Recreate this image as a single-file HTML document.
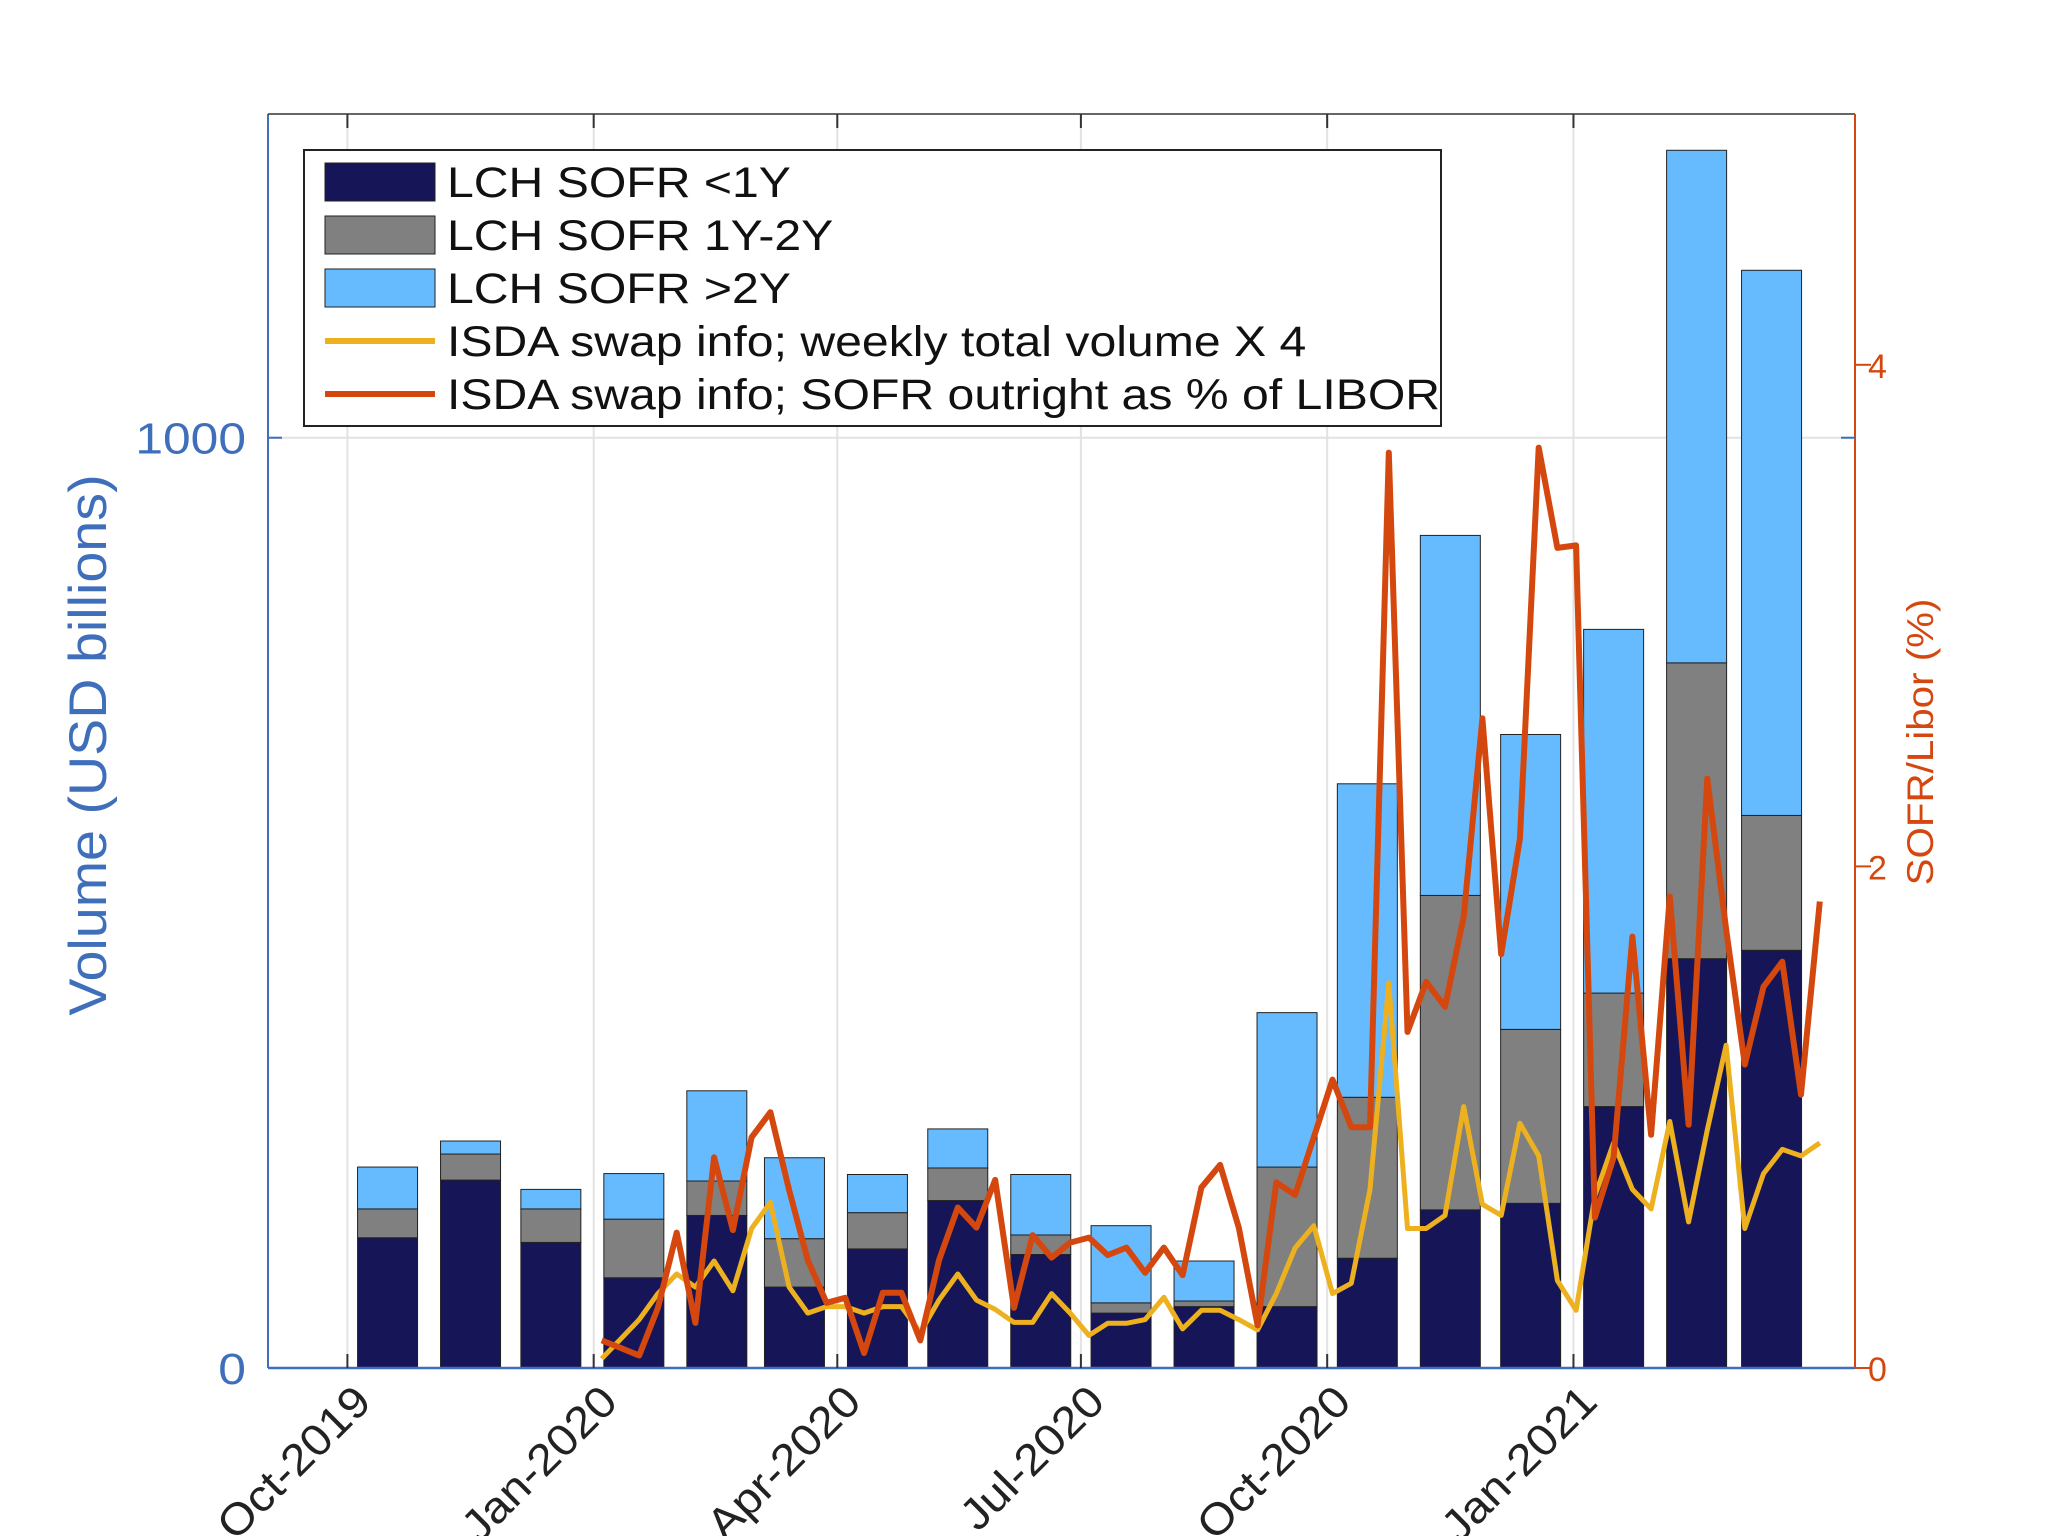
<!DOCTYPE html>
<html><head><meta charset="utf-8"><style>
html,body{margin:0;padding:0;background:#fff;}
svg{display:block;font-family:"Liberation Sans",sans-serif;}
</style></head><body>
<svg id="chart" width="2048" height="1536" viewBox="0 0 2048 1536" xmlns="http://www.w3.org/2000/svg">
<g id="grid"></g>
<g id="bars"></g>
<g id="lines"></g>
<g id="axes"></g>
<g id="legend"></g>
</svg>
<script>
const monthDays = [15,46,76,107,138,167,198,228,259,289,320,351,381,412,442,473,504,532];
const seriesLt1Y = [140,202,135,97,164,87,128,180,122,59,66,66,118,170,177,281,440,449];
const series1to2Y = [31,28,36,63,37,52,39,35,21,11,6,150,173,338,187,122,318,145];
const seriesGt2Y = [45,14,21,49,97,87,41,42,65,83,43,166,337,387,317,391,551,586];
const weekStartDay = 95;
const isdaVolume = [10,31,52,80,101,87,115,83,150,178,87,59,66,66,59,66,66,38,73,101,73,63,49,49,80,59,35,48,48,52,76,42,62,62,52,41,80,129,153,80,91,192,414,150,150,164,281,176,164,263,228,94,62,185,242,192,171,265,157,256,347,150,209,235,228,242];
const sofrPct = [0.11,0.08,0.05,0.24,0.54,0.18,0.84,0.55,0.92,1.02,0.71,0.43,0.26,0.28,0.06,0.30,0.30,0.11,0.43,0.64,0.56,0.75,0.24,0.53,0.44,0.50,0.52,0.45,0.48,0.38,0.48,0.37,0.72,0.81,0.56,0.17,0.74,0.69,0.92,1.15,0.96,0.96,3.65,1.34,1.54,1.44,1.80,2.59,1.65,2.11,3.67,3.27,3.28,0.60,0.84,1.72,0.93,1.88,0.97,2.35,1.75,1.21,1.52,1.62,1.09,1.86];
const xTickDays = [0,92,183,274,366,458];
const xTickLabels = ["Oct-2019","Jan-2020","Apr-2020","Jul-2020","Oct-2020","Jan-2021"];
const yLeftTicks = [0,1000];
const yRightTicks = [0,2,4];

const L=268,R=1855,T=114,B=1368;
const xs = d => 347.4 + d*2.677;
const yl = v => B - v*(B-T)/1348;
const yr = v => B - v*(B-T)/5;
const NS="http://www.w3.org/2000/svg";
function mk(parent,tag,attrs,text){const e=document.createElementNS(NS,tag);for(const k in attrs)e.setAttribute(k,attrs[k]);if(text!==undefined)e.textContent=text;document.getElementById(parent).appendChild(e);return e;}
function stretch(el,f){const w=el.getComputedTextLength();el.setAttribute('textLength',(w*f).toFixed(1));el.setAttribute('lengthAdjust','spacingAndGlyphs');}
const BLUE="#3f6fba",ORANGE="#d4480f";

xTickDays.forEach((d,i)=>{
  const g=mk('grid','line',{x1:xs(d),x2:xs(d),y1:T,y2:B,stroke:'#e2e2e2','stroke-width':2});
  
  
});
yLeftTicks.forEach(v=>{
  const g=mk('grid','line',{x1:L,x2:R,y1:yl(v),y2:yl(v),stroke:'#e2e2e2','stroke-width':2});
  
  
});

const bw=60;
monthDays.forEach((d,i)=>{
  const x=xs(d)-bw/2;
  const a=seriesLt1Y[i], b=series1to2Y[i], c=seriesGt2Y[i];
  const segs=[[0,a,'#151558','bar-lt1y'],[a,a+b,'#808080','bar-1y-2y'],[a+b,a+b+c,'#66bbff','bar-gt2y']];
  segs.forEach(s=>{
    const r=mk('bars','rect',{x:x,y:yl(s[1]),width:bw,height:yl(s[0])-yl(s[1]),fill:s[2],stroke:'#222','stroke-width':1});
    
    
  });
});

function pts(arr,yf){return arr.map((v,i)=>xs(weekStartDay+7*i).toFixed(1)+','+yf(v).toFixed(1)).join(' ');}
const ly=mk('lines','polyline',{points:pts(isdaVolume,yl),fill:'none',stroke:'#edb120','stroke-width':5,'stroke-linejoin':'round'});


const lr=mk('lines','polyline',{points:pts(sofrPct,yr),fill:'none',stroke:ORANGE,'stroke-width':6,'stroke-linejoin':'round'});



let e;
e=mk('axes','line',{x1:L,x2:L,y1:T,y2:B,stroke:BLUE,'stroke-width':2});


e=mk('axes','line',{x1:L,x2:R,y1:B,y2:B,stroke:BLUE,'stroke-width':2.5});


e=mk('axes','line',{x1:L,x2:R,y1:T,y2:T,stroke:'#333','stroke-width':1.5});


e=mk('axes','line',{x1:R,x2:R,y1:T,y2:B,stroke:ORANGE,'stroke-width':2});


xTickDays.forEach((d,i)=>{
  const x=xs(d);
  e=mk('axes','line',{x1:x,x2:x,y1:B,y2:B-14,stroke:'#333','stroke-width':2});
  
  
  e=mk('axes','line',{x1:x,x2:x,y1:T,y2:T+14,stroke:'#333','stroke-width':2});
  
  
  e=mk('axes','text',{x:x+26,y:B+36,'font-size':44,fill:'#222','text-anchor':'end',transform:`rotate(-45 ${x+26} ${B+36})`},xTickLabels[i]);
  
  
  stretch(e,1.08);
});
yLeftTicks.forEach(v=>{
  e=mk('axes','line',{x1:L,x2:L+14,y1:yl(v),y2:yl(v),stroke:BLUE,'stroke-width':2});
  
  
  e=mk('axes','line',{x1:R-14,x2:R,y1:yl(v),y2:yl(v),stroke:BLUE,'stroke-width':2});
  
  
  e=mk('axes','text',{x:246,y:yl(v)+16,'font-size':44,fill:BLUE,'text-anchor':'end'},String(v));
  
  
  stretch(e,1.13);
});
yRightTicks.forEach(v=>{
  e=mk('axes','line',{x1:R,x2:R+16,y1:yr(v),y2:yr(v),stroke:ORANGE,'stroke-width':2});
  
  
  e=mk('axes','text',{x:1868,y:yr(v)+13,'font-size':34,fill:ORANGE},String(v));
  
  
});
e=mk('axes','text',{x:0,y:0,'font-size':53,fill:BLUE,'text-anchor':'middle',transform:'translate(106 745) rotate(-90)'},'Volume (USD billions)');


stretch(e,1.05);
e=mk('axes','text',{x:0,y:0,'font-size':37,fill:ORANGE,'text-anchor':'middle',transform:'translate(1933 742) rotate(-90)'},'SOFR/Libor (%)');


stretch(e,1.09);

e=mk('legend','rect',{x:304,y:150,width:1137,height:276,fill:'#fff',stroke:'#222','stroke-width':2});


const legItems=[['LCH SOFR <1Y','#151558','rect'],['LCH SOFR 1Y-2Y','#808080','rect'],['LCH SOFR >2Y','#66bbff','rect'],['ISDA swap info; weekly total volume X 4','#edb120','line'],['ISDA swap info; SOFR outright as % of LIBOR',ORANGE,'line']];
legItems.forEach((it,i)=>{
  const cy=182+i*53;
  if(it[2]==='rect'){
    e=mk('legend','rect',{x:325,y:cy-19,width:110,height:38,fill:it[1],stroke:'#222','stroke-width':1});
  } else {
    e=mk('legend','line',{x1:325,x2:435,y1:cy,y2:cy,stroke:it[1],'stroke-width':6});
  }
  
  
  e=mk('legend','text',{x:447,y:cy+15,'font-size':43,fill:'#111'},it[0]);
  
  
  stretch(e,1.12);
});
</script>
</body></html>
